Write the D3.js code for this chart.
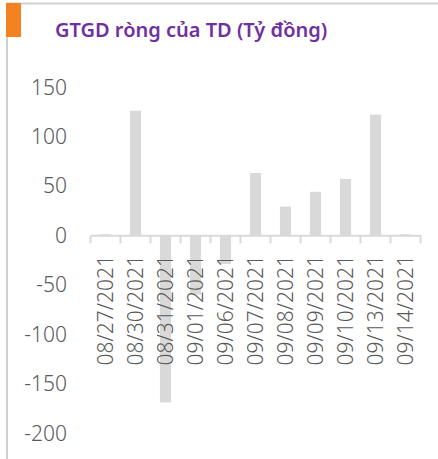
<!doctype html>
<html>
<head>
<meta charset="utf-8">
<style>
body { margin: 0; background: #fff; }
svg { display: block; }
.bar { fill: #d9d9d9; }
text { font-family: "Noto Sans", sans-serif; fill: #595959; font-weight: 300; }
</style>
<script src="https://d3js.org/d3.v7.min.js"></script>
</head>
<body>
<svg width="438" height="459"></svg>
<script>
var dates = ["08/27/2021", "08/30/2021", "08/31/2021", "09/01/2021", "09/06/2021", "09/07/2021",
	"09/08/2021", "09/09/2021", "09/10/2021", "09/13/2021", "09/14/2021"];
var values = [1, 126, -169, -60, -29, 63, 29, 44, 57, 122, 1];
var yTicks = [150, 100, 50, 0, -50, -100, -150, -200];
var title = "GTGD ròng của TD (Tỷ đồng)";

var svg = d3.select("svg");

// frame
svg.append("line").attr("x1", 6).attr("x2", 438).attr("y1", 3.5).attr("y2", 3.5)
	.attr("stroke", "#cfcfcf").attr("stroke-width", 2);
svg.append("line").attr("x1", 7).attr("x2", 7).attr("y1", 3).attr("y2", 459)
	.attr("stroke", "#cfcfcf").attr("stroke-width", 2);
svg.append("rect").attr("x", 6).attr("y", 3).attr("width", 15).attr("height", 34)
	.attr("fill", "#f58220");
svg.append("text").attr("x", 55).attr("y", 37).text(title)
	.style("fill", "#7030a0").style("font-weight", 600).attr("font-size", "20px");

var x = d3.scaleBand().domain(dates).range([90.5, 420.5]);
var y = d3.scaleLinear().domain([-200, 150]).range([433, 87]);

// y labels (no axis line)
svg.append("g").selectAll("text").data(yTicks).enter().append("text")
	.attr("x", 67).attr("y", function(d) { return y(d); })
	.attr("dy", "0.36em").attr("text-anchor", "end")
	.attr("font-size", "21px").text(function(d) { return d; });

// bars
var bw = x.bandwidth() * 0.37;
svg.append("g").selectAll("rect").data(values).enter().append("rect")
	.attr("class", "bar")
	.attr("x", function(d, i) { return x(dates[i]) + (x.bandwidth() - bw) / 2; })
	.attr("width", bw)
	.attr("y", function(d) { return y(Math.max(0, d)); })
	.attr("height", function(d) { return Math.abs(y(d) - y(0)); });

// x axis at zero
var xAxis = d3.axisBottom(x).tickSize(0).tickFormat("");
var gx = svg.append("g").attr("transform", "translate(0," + y(0) + ")").call(xAxis);
gx.select(".domain").attr("stroke", "#d9d9d9").attr("stroke-width", 2);
var bounds = dates.map(function(d) { return x(d); }).concat([x.range()[1]]);
gx.selectAll(".sep").data(bounds).enter().append("line")
	.attr("x1", function(d) { return d; }).attr("x2", function(d) { return d; })
	.attr("y1", 0).attr("y2", 8).attr("stroke", "#d9d9d9").attr("stroke-width", 2);

// rotated date labels
svg.append("g").selectAll("text").data(dates).enter().append("text")
	.attr("transform", function(d) {
		return "translate(" + (x(d) + x.bandwidth() / 2) + ",255) rotate(-90)";
	})
	.attr("dy", "0.36em").attr("text-anchor", "end")
	.attr("font-size", "21px").text(function(d) { return d; });
</script>
</body>
</html>
